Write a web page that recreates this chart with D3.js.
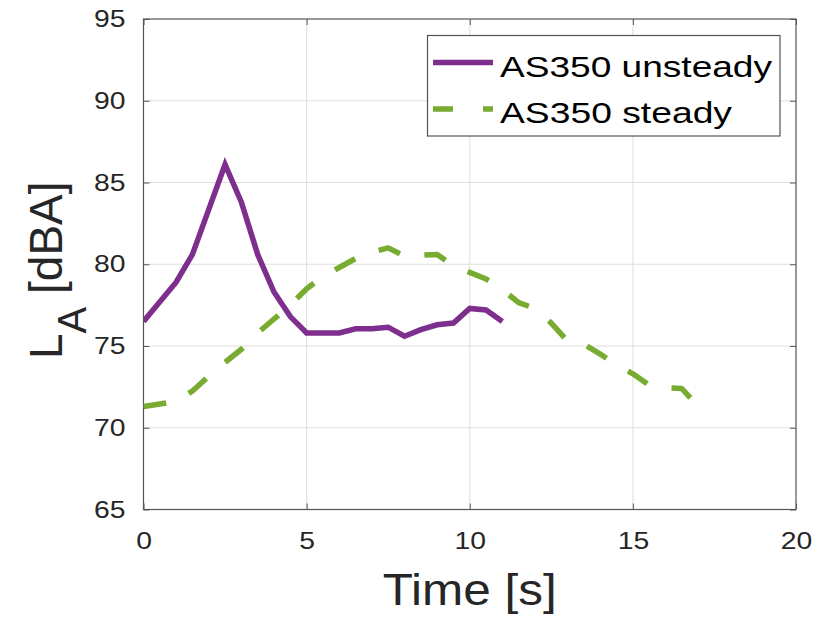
<!DOCTYPE html>
<html>
<head>
<meta charset="utf-8">
<script src="https://cdn.jsdelivr.net/npm/d3@7"></script>
<style>
  html, body { margin: 0; padding: 0; background: #fff; }
  svg { display: block; font-family: "Liberation Sans", Arial, sans-serif; }
</style>
</head>
<body>
<svg id="chart" width="833" height="620"></svg>
<script>
// Sound level over time for the two AS350 flight conditions
const unsteadyTime = [0, 1, 1.5, 2.5, 3, 3.5, 4, 4.5, 5, 6, 6.5, 7, 7.5, 8, 8.5, 9, 9.5, 10, 10.5, 11];
const unsteadyLA   = [76.5, 78.9, 80.6, 86.1, 83.8, 80.6, 78.3, 76.8, 75.8, 75.8, 76.05, 76.05, 76.15, 75.6, 76.0, 76.3, 76.4, 77.3, 77.2, 76.5];

const steadyTime = [0, 0.5, 1, 1.5, 2, 2.5, 3, 3.5, 4, 4.5, 5, 5.5, 6, 6.5, 7, 7.5, 8, 8.5, 9, 9.5, 10, 10.5, 11, 11.5, 12, 12.5, 13, 13.5, 14, 14.5, 15, 15.5, 16, 16.5, 17];
const steadyLA   = [71.3, 71.45, 71.6, 72.25, 73.15, 74.0, 74.8, 75.8, 76.65, 77.5, 78.5, 79.25, 79.8, 80.35, 80.75, 81.0, 80.5, 80.55, 80.6, 79.9, 79.5, 79.1, 78.45, 77.65, 77.3, 76.4, 75.3, 75.1, 74.5, 73.85, 73.3, 72.6, 72.45, 72.4, 71.3];

const xTicks = [0, 5, 10, 15, 20];
const yTicks = [65, 70, 75, 80, 85, 90, 95];
const seriesNames = ["AS350 unsteady", "AS350 steady"];
const seriesColors = ["#7E2F8E", "#77AC30"];

const svg = d3.select("#chart");
const plot = { left: 143.5, right: 796, top: 19, bottom: 509.5 };
const textColor = "#262626";
const axisColor = "#555";
const stretch = 1.18;   // horizontal widening of glyphs

const x = d3.scaleLinear().domain([0, 20]).range([plot.left, plot.right]);
const y = d3.scaleLinear().domain([65, 95]).range([plot.bottom, plot.top]);

// grid
const grid = svg.append("g").attr("stroke", "#dedede").attr("stroke-width", 1);
grid.selectAll("line.gx").data(xTicks.slice(1, -1)).join("line")
  .attr("x1", d => x(d)).attr("x2", d => x(d))
  .attr("y1", plot.top).attr("y2", plot.bottom);
grid.selectAll("line.gy").data(yTicks.slice(1, -1)).join("line")
  .attr("y1", d => y(d)).attr("y2", d => y(d))
  .attr("x1", plot.left).attr("x2", plot.right);

// widen a text selection horizontally
function widen(sel, factor) {
  sel.each(function () {
    const w = this.getComputedTextLength();
    d3.select(this).attr("textLength", w * factor).attr("lengthAdjust", "spacingAndGlyphs");
  });
}

// axes: ticks point inward
const xAxis = svg.append("g").attr("transform", `translate(0,${plot.bottom})`)
  .call(d3.axisBottom(x).tickValues(xTicks).tickSizeInner(-6).tickSizeOuter(0).tickPadding(22));
const yAxis = svg.append("g").attr("transform", `translate(${plot.left},0)`)
  .call(d3.axisLeft(y).tickValues(yTicks).tickSizeInner(-6).tickSizeOuter(0).tickPadding(18));
const xTop = svg.append("g").attr("transform", `translate(0,${plot.top})`)
  .call(d3.axisTop(x).tickValues(xTicks).tickSizeInner(-6).tickSizeOuter(0).tickFormat(""));
const yRight = svg.append("g").attr("transform", `translate(${plot.right},0)`)
  .call(d3.axisRight(y).tickValues(yTicks).tickSizeInner(-6).tickSizeOuter(0).tickFormat(""));

[xAxis, yAxis, xTop, yRight].forEach(g => {
  g.select(".domain").remove();
  g.selectAll(".tick line").attr("stroke", axisColor).attr("stroke-width", 1);
  g.selectAll("text").attr("fill", textColor).attr("font-size", 24)
    .attr("font-family", "Liberation Sans, Arial, sans-serif");
});
xAxis.selectAll("text").attr("dy", "0.71em");
widen(xAxis.selectAll("text"), stretch);
widen(yAxis.selectAll("text"), stretch);

// axes box
svg.append("rect")
  .attr("x", plot.left).attr("y", plot.top)
  .attr("width", plot.right - plot.left).attr("height", plot.bottom - plot.top)
  .attr("fill", "none").attr("stroke", axisColor).attr("stroke-width", 1.2);

// clip lines to the axes
svg.append("clipPath").attr("id", "clip").append("rect")
  .attr("x", plot.left).attr("y", plot.top)
  .attr("width", plot.right - plot.left).attr("height", plot.bottom - plot.top);

const line = d3.line().x(d => x(d[0])).y(d => y(d[1]));
const lines = svg.append("g").attr("clip-path", "url(#clip)").attr("fill", "none");

lines.append("path")
  .datum(unsteadyTime.map((t, i) => [t, unsteadyLA[i]]))
  .attr("d", line).attr("stroke", seriesColors[0]).attr("stroke-width", 5.5)
  .attr("stroke-linejoin", "miter").attr("stroke-linecap", "butt");

lines.append("path")
  .datum(steadyTime.map((t, i) => [t, steadyLA[i]]))
  .attr("d", line).attr("stroke", seriesColors[1]).attr("stroke-width", 5.5)
  .attr("stroke-dasharray", "23,25")
  .attr("stroke-linejoin", "round").attr("stroke-linecap", "butt");

// legend
const legend = svg.append("g");
legend.append("rect")
  .attr("x", 427.5).attr("y", 35.5).attr("width", 352.5).attr("height", 100.5)
  .attr("fill", "#fff").attr("stroke", axisColor).attr("stroke-width", 1.2);
const rows = [
  { name: seriesNames[0], color: seriesColors[0], dash: null, yLine: 62.5, yText: 76.5, width: 272 },
  { name: seriesNames[1], color: seriesColors[1], dash: "20,30", yLine: 109, yText: 123, width: 232 }
];
rows.forEach(r => {
  legend.append("line")
    .attr("x1", 433).attr("x2", 493).attr("y1", r.yLine).attr("y2", r.yLine)
    .attr("stroke", r.color).attr("stroke-width", 5.5)
    .attr("stroke-dasharray", r.dash);
  legend.append("text")
    .attr("x", 500).attr("y", r.yText)
    .attr("font-size", 30).attr("fill", "#000")
    .attr("textLength", r.width).attr("lengthAdjust", "spacingAndGlyphs")
    .text(r.name);
});

// axis titles
svg.append("text")
  .attr("x", (plot.left + plot.right) / 2).attr("y", 605)
  .attr("text-anchor", "middle").attr("font-size", 44).attr("fill", textColor)
  .attr("textLength", 174).attr("lengthAdjust", "spacingAndGlyphs")
  .text("Time [s]");

const yTitle = svg.append("text")
  .attr("transform", "translate(62,359) rotate(-90)")
  .attr("font-size", 46).attr("fill", textColor);
yTitle.append("tspan").text("L");
yTitle.append("tspan").attr("font-size", 40).attr("dy", 24).text("A");
yTitle.append("tspan").attr("dy", -24).text(" [dBA]");
</script>
</body>
</html>
